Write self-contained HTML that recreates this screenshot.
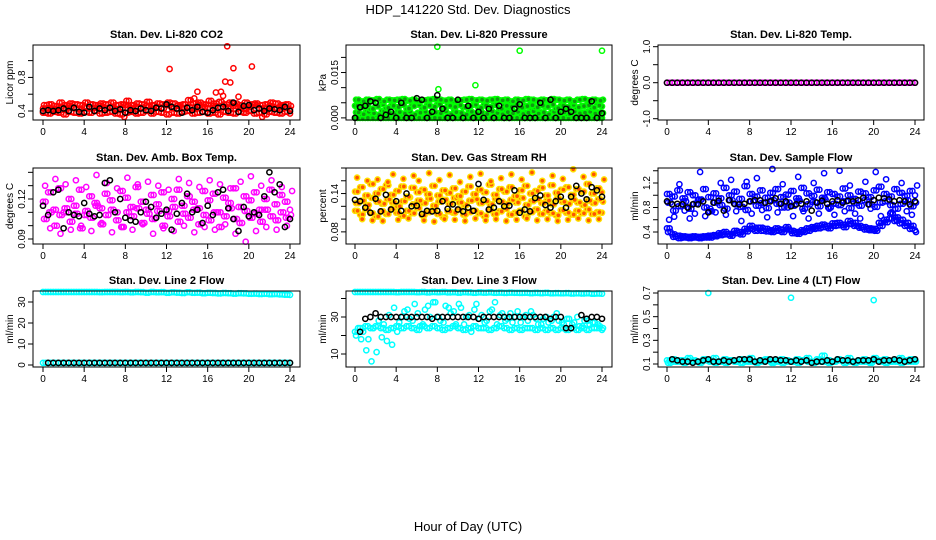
<!DOCTYPE html>
<html><head><meta charset="utf-8"><style>
html,body{margin:0;padding:0;background:#fff;}
svg{display:block;font-family:"Liberation Sans",sans-serif;}
.pt{font-weight:bold;font-size:11px;}
.tk{font-size:10px;}
</style></head><body>
<svg id="chart" width="936" height="540" viewBox="0 0 936 540">
<text x="468" y="14" text-anchor="middle" font-size="13">HDP_141220  Std. Dev. Diagnostics</text>
<text x="468" y="531" text-anchor="middle" font-size="13">Hour of Day (UTC)</text>
</svg>
<script>
const HOURS=[0,0.5,1,1.5,2,2.5,3,3.5,4,4.5,5,5.5,6,6.5,7,7.5,8,8.5,9,9.5,10,10.5,11,11.5,12,12.5,13,13.5,14,14.5,15,15.5,16,16.5,17,17.5,18,18.5,19,19.5,20,20.5,21,21.5,22,22.5,23,23.5,24];
const X_TICKS=[0,4,8,12,16,20,24];

// Panel 1: CO2
const CO2_A=[0.43,0.44,0.42,0.45,0.43,0.46,0.44,0.42,0.45,0.43,0.44,0.46,0.43,0.45,0.42,0.44,0.47,0.43,0.45,0.44,0.46,0.42,0.45,0.43,0.47,0.44,0.46,0.43,0.45,0.44,0.47,0.45,0.43,0.46,0.44,0.45,0.43,0.46,0.44,0.42,0.45,0.47,0.43,0.44,0.46,0.43,0.45,0.44,0.42];
const CO2_B=[0.38,0.37,0.39,0.38,0.36,0.39,0.38,0.37,0.39,0.38,0.40,0.37,0.38,0.39,0.37,0.36,0.38,0.39,0.37,0.38,0.40,0.37,0.39,0.38,0.36,0.38,0.37,0.39,0.40,0.37,0.38,0.39,0.37,0.38,0.36,0.39,0.38,0.37,0.39,0.38,0.40,0.37,0.38,0.36,0.39,0.38,0.37,0.39,0.37];
const CO2_C=[0.47,0.48,0.46,0.50,0.47,0.49,0.48,0.47,0.50,0.48,0.47,0.49,0.48,0.50,0.47,0.48,0.52,0.47,0.49,0.48,0.51,0.47,0.49,0.48,0.50,0.49,0.47,0.48,0.53,0.49,0.50,0.48,0.52,0.49,0.51,0.48,0.50,0.49,0.47,0.50,0.48,0.49,0.47,0.48,0.50,0.49,0.47,0.48,0.46];
const CO2_OUT_H=[12.3,14.7,15,16.8,17.3,17.5,17.7,17.9,18.2,18.5,19,20.3,7.9,21.3];
const CO2_OUT_V=[0.90,0.55,0.63,0.62,0.63,0.58,0.75,1.17,0.74,0.91,0.57,0.93,0.33,0.33];
const CO2_K=[0.40,0.41,0.40,0.41,0.43,0.40,0.44,0.39,0.38,0.45,0.40,0.43,0.41,0.44,0.40,0.42,0.38,0.41,0.40,0.43,0.41,0.40,0.44,0.43,0.48,0.45,0.43,0.38,0.44,0.41,0.45,0.39,0.38,0.41,0.44,0.45,0.40,0.50,0.39,0.46,0.47,0.41,0.43,0.40,0.43,0.42,0.41,0.45,0.40];

// Panel 2: Pressure
const PR_A=[0.0060,0.0055,0.0060,0.0058,0.0062,0.0055,0.0060,0.0058,0.0060,0.0062,0.0057,0.0060,0.0055,0.0058,0.0060,0.0062,0.0060,0.0057,0.0060,0.0055,0.0058,0.0060,0.0062,0.0058,0.0060,0.0057,0.0060,0.0062,0.0058,0.0060,0.0055,0.0060,0.0058,0.0062,0.0060,0.0057,0.0060,0.0058,0.0062,0.0060,0.0057,0.0060,0.0055,0.0060,0.0062,0.0058,0.0060,0.0057,0.0060];
const PR_B=[0.0040,0.0035,0.0042,0.0030,0.0038,0.0045,0.0033,0.0040,0.0036,0.0043,0.0031,0.0039,0.0044,0.0034,0.0041,0.0037,0.0045,0.0032,0.0040,0.0036,0.0042,0.0035,0.0039,0.0044,0.0033,0.0041,0.0037,0.0043,0.0030,0.0040,0.0036,0.0044,0.0034,0.0039,0.0042,0.0035,0.0041,0.0037,0.0044,0.0032,0.0040,0.0036,0.0043,0.0035,0.0039,0.0042,0.0034,0.0041,0.0038];
const PR_C=[0.0018,0.0012,0.0020,0.0015,0.0010,0.0022,0.0016,0.0012,0.0019,0.0014,0.0021,0.0011,0.0017,0.0020,0.0013,0.0018,0.0015,0.0022,0.0012,0.0019,0.0016,0.0011,0.0020,0.0014,0.0018,0.0013,0.0021,0.0016,0.0012,0.0019,0.0015,0.0020,0.0013,0.0017,0.0022,0.0014,0.0018,0.0012,0.0020,0.0016,0.0019,0.0013,0.0021,0.0015,0.0017,0.0020,0.0014,0.0018,0.0016];
const PR_D=[0,0,0,0,0,0,0,0,0,0,0,0,0,0,0,0,0,0,0,0,0,0,0,0,0,0,0,0,0,0,0,0,0,0,0,0,0,0,0,0,0,0,0,0,0,0,0,0,0];
const PR_OUT_H=[8,8.1,11.7,16,24];
const PR_OUT_V=[0.0235,0.0095,0.0108,0.0222,0.0222];
const PR_K=[0,0.0035,0.0040,0.0055,0.0050,0.0000,0.0010,0.0020,0.0000,0.0050,0.0000,0.0000,0.0065,0.0060,0.0000,0.0020,0.0075,0.0030,0.0000,0.0000,0.0060,0.0000,0.0040,0.0000,0.0020,0.0000,0.0030,0.0000,0.0040,0.0000,0.0000,0.0030,0.0045,0.0000,0.0000,0.0000,0.0050,0.0000,0.0060,0.0000,0.0020,0.0030,0.0020,0.0000,0.0000,0.0000,0.0055,0.0000,0.0015];

// Panel 3: Li-820 Temp
const TMP_M=[0,0,0,0,0,0,0,0,0,0,0,0,0,0,0,0,0,0,0,0,0,0,0,0,0,0,0,0,0,0,0,0,0,0,0,0,0,0,0,0,0,0,0,0,0,0,0,0,0];
const TMP_K=[0,0,0,0,0,0,0,0,0,0,0,0,0,0,0,0,0,0,0,0,0,0,0,0,0,0,0,0,0,0,0,0,0,0,0,0,0,0,0,0,0,0,0,0,0,0,0,0,0];

// Panel 4: Amb Box Temp
const AB_A=[0.118,0.125,0.112,0.128,0.110,0.120,0.115,0.127,0.108,0.122,0.117,0.113,0.124,0.119,0.110,0.126,0.121,0.114,0.129,0.118,0.112,0.123,0.116,0.125,0.111,0.120,0.127,0.115,0.122,0.118,0.113,0.126,0.119,0.124,0.110,0.121,0.117,0.128,0.114,0.122,0.119,0.125,0.112,0.120,0.127,0.116,0.123,0.118,0.112];
const AB_B=[0.105,0.110,0.100,0.108,0.113,0.103,0.109,0.098,0.111,0.106,0.115,0.101,0.108,0.112,0.104,0.099,0.110,0.107,0.113,0.102,0.109,0.105,0.111,0.100,0.107,0.114,0.103,0.109,0.106,0.112,0.101,0.108,0.104,0.110,0.099,0.107,0.113,0.105,0.102,0.111,0.106,0.109,0.103,0.112,0.107,0.104,0.110,0.106,0.108];
const AB_C=[0.130,0.098,0.135,0.094,0.131,0.097,0.134,0.100,0.129,0.096,0.138,0.102,0.132,0.095,0.128,0.099,0.136,0.097,0.131,0.101,0.133,0.094,0.130,0.098,0.127,0.096,0.135,0.100,0.132,0.095,0.129,0.099,0.134,0.097,0.131,0.101,0.128,0.094,0.133,0.088,0.137,0.096,0.130,0.099,0.134,0.097,0.129,0.100,0.126];
const AB_K=[0.115,0.108,0.125,0.127,0.098,0.110,0.108,0.107,0.117,0.109,0.107,0.108,0.132,0.134,0.110,0.120,0.106,0.104,0.103,0.110,0.118,0.114,0.106,0.109,0.112,0.097,0.109,0.117,0.124,0.110,0.112,0.102,0.115,0.108,0.125,0.127,0.113,0.105,0.096,0.114,0.107,0.110,0.108,0.122,0.140,0.125,0.131,0.099,0.105];

// Panel 5: Gas Stream RH
const RH_A=[0.125,0.129,0.122,0.133,0.127,0.124,0.131,0.126,0.120,0.128,0.134,0.123,0.129,0.125,0.132,0.121,0.127,0.130,0.124,0.133,0.126,0.122,0.129,0.131,0.125,0.128,0.123,0.132,0.127,0.124,0.130,0.126,0.133,0.122,0.128,0.131,0.125,0.129,0.123,0.132,0.127,0.124,0.130,0.126,0.122,0.129,0.125,0.131,0.127];
const RH_B=[0.113,0.107,0.115,0.109,0.104,0.112,0.108,0.116,0.110,0.105,0.113,0.109,0.117,0.106,0.111,0.114,0.108,0.103,0.112,0.110,0.115,0.107,0.111,0.113,0.109,0.105,0.114,0.108,0.112,0.116,0.107,0.110,0.113,0.104,0.111,0.115,0.108,0.112,0.109,0.106,0.114,0.110,0.107,0.113,0.109,0.115,0.108,0.111,0.110];
const RH_C=[0.143,0.150,0.137,0.155,0.140,0.147,0.153,0.138,0.144,0.151,0.135,0.149,0.142,0.146,0.139,0.152,0.137,0.145,0.141,0.148,0.136,0.143,0.151,0.139,0.146,0.142,0.154,0.138,0.147,0.143,0.150,0.136,0.145,0.152,0.140,0.144,0.149,0.137,0.153,0.141,0.146,0.150,0.138,0.147,0.143,0.155,0.140,0.148,0.142];
const RH_D=[0.165,0.100,0.160,0.098,0.162,0.097,0.158,0.170,0.099,0.163,0.101,0.168,0.160,0.098,0.172,0.096,0.161,0.100,0.169,0.099,0.158,0.097,0.166,0.101,0.171,0.098,0.159,0.100,0.164,0.097,0.170,0.099,0.162,0.101,0.173,0.098,0.160,0.100,0.168,0.097,0.163,0.099,0.178,0.101,0.166,0.098,0.170,0.100,0.162];
const RH_K=[0.130,0.128,0.118,0.110,0.132,0.112,0.138,0.115,0.128,0.113,0.140,0.120,0.121,0.108,0.113,0.112,0.113,0.128,0.116,0.123,0.115,0.112,0.118,0.113,0.155,0.130,0.115,0.118,0.128,0.120,0.121,0.145,0.110,0.115,0.112,0.133,0.137,0.122,0.118,0.128,0.135,0.118,0.135,0.152,0.140,0.131,0.150,0.145,0.135];

// Panel 6: Sample Flow
const SF_A=[1.02,0.98,1.08,0.95,1.05,1.00,0.92,1.10,0.97,1.03,0.95,1.12,1.00,1.06,0.94,1.15,1.02,0.98,1.08,0.96,1.04,1.10,0.97,1.01,1.07,0.95,1.12,1.03,0.99,1.09,0.96,1.05,1.02,0.98,1.11,1.00,0.94,1.06,1.03,0.97,1.08,1.14,1.02,0.98,1.10,1.04,0.99,1.07,1.00];
const SF_B=[0.88,0.75,0.82,0.90,0.78,0.86,0.93,0.80,0.74,0.88,0.84,0.78,0.92,0.85,0.81,0.76,0.90,0.83,0.87,0.79,0.92,0.86,0.80,0.88,0.83,0.91,0.78,0.85,0.89,0.82,0.93,0.80,0.86,0.84,0.90,0.79,0.87,0.83,0.92,0.85,0.81,0.88,0.90,0.84,0.78,0.86,0.92,0.82,0.88];
const SF_C=[0.46,0.36,0.34,0.33,0.32,0.33,0.32,0.33,0.34,0.35,0.38,0.40,0.37,0.42,0.40,0.45,0.50,0.42,0.47,0.45,0.43,0.46,0.44,0.48,0.42,0.40,0.43,0.46,0.48,0.50,0.52,0.50,0.54,0.55,0.52,0.58,0.55,0.50,0.48,0.46,0.45,0.55,0.60,0.62,0.58,0.54,0.50,0.45,0.43];
const SF_D=[0.40,0.32,0.30,0.31,0.30,0.31,0.30,0.31,0.31,0.33,0.35,0.36,0.34,0.38,0.36,0.41,0.45,0.47,0.42,0.41,0.40,0.42,0.40,0.44,0.38,0.37,0.40,0.42,0.45,0.46,0.48,0.46,0.50,0.51,0.48,0.53,0.50,0.47,0.44,0.43,0.42,0.50,0.56,0.70,0.64,0.60,0.55,0.50,0.40];
const SF_E=[0.60,0.65,1.18,0.75,0.62,0.70,1.38,0.66,0.78,0.72,1.20,0.68,1.25,0.74,0.58,1.22,0.70,1.28,0.76,0.64,1.45,0.72,1.18,0.80,0.66,1.30,0.74,0.62,1.20,0.70,1.36,0.78,0.68,1.40,0.74,1.16,0.70,0.62,1.22,0.78,1.38,0.66,1.26,0.72,0.60,1.20,0.74,0.68,1.16];
const SF_K=[0.90,0.85,0.86,0.85,0.80,0.85,0.85,0.90,0.72,0.88,0.91,0.75,0.92,0.86,0.85,0.86,0.90,0.92,0.92,0.88,0.90,0.95,0.86,0.90,0.82,0.85,0.86,0.90,0.75,0.88,0.91,0.86,0.90,0.92,0.88,0.91,0.90,0.92,0.96,0.85,0.92,0.96,0.95,0.93,0.90,0.92,0.90,0.85,0.90];

// Panel 7: Line 2 Flow
const L2_A=[35.0,35.2,34.8,35.1,34.9,35.2,35.0,34.8,35.1,34.9,35.0,34.7,35.0,34.8,34.9,34.7,34.9,34.6,34.8,34.7,34.5,34.8,34.6,34.7,34.4,34.6,34.5,34.3,34.6,34.4,34.5,34.2,34.4,34.3,34.1,34.3,34.2,34.0,34.2,34.1,33.9,34.0,33.8,33.9,33.7,33.8,33.6,33.5,33.4];
const L2_B=[1.0,1.0,1.0,1.0,1.0,1.0,1.0,1.0,1.0,1.0,1.0,1.0,1.0,1.0,1.0,1.0,1.0,1.0,1.0,1.0,1.0,1.0,1.0,1.0,1.0,1.0,1.0,1.0,1.0,1.0,1.0,1.0,1.0,1.0,1.0,1.0,1.0,1.0,1.0,1.0,1.0,1.0,1.0,1.0,1.0,1.0,1.0,1.0,1.0];
const L2_K=[null,1.0,1.0,1.0,1.0,1.0,1.0,1.0,1.0,1.0,1.0,1.0,1.0,1.0,1.0,1.0,1.0,1.0,1.0,1.0,1.0,1.0,1.0,1.0,1.0,1.0,1.0,1.0,1.0,1.0,1.0,1.0,1.0,1.0,1.0,1.0,1.0,1.0,1.0,1.0,1.0,1.0,1.0,1.0,1.0,1.0,1.0,1.0,1.0];

// Panel 8: Line 3 Flow
const L3_A=[43.8,43.6,43.9,43.7,43.8,43.5,43.7,43.6,43.4,43.7,43.5,43.6,43.4,43.5,43.3,43.6,43.4,43.5,43.3,43.4,43.2,43.4,43.3,43.1,43.3,43.2,43.3,43.1,43.2,43.0,43.2,43.1,43.0,43.1,42.9,43.0,42.9,43.0,42.8,42.9,42.8,42.9,42.7,42.8,42.7,42.8,42.6,42.7,42.6];
const L3_B=[22,24,25,24,25,24,23,24,25,24,25,24,23,25,24,25,24,23,24,25,24,23,24,25,24,24,23,24,25,24,23,24,23,24,24,23,24,23,24,23,24,23,24,23,24,23,24,24,23];
const L3_C=[20,18,12,6,11,19,17,15,22,30,34,28,32,26,36,38,30,27,35,33,37,26,31,34,29,27,33,38,31,28,32,30,27,31,33,29,26,30,28,32,27,29,26,30,25,28,27,26,24];
const L3_D=[24,22,18,24,28,26,31,35,27,33,29,37,25,34,30,38,28,36,32,26,35,30,22,37,31,28,34,26,32,29,27,33,30,28,31,26,29,27,30,28,26,29,27,25,28,26,27,25,26];
const L3_K=[null,22,29,30,32,30,30,30,30,30,30,30,30,30,30,29,30,30,30,30,30,30,30,30,29,30,30,30,30,30,30,30,30,30,30,30,30,30,29,30,30,24,24,null,31,29,30,30,29];

// Panel 9: Line 4 Flow
const L4_A=[0.13,0.14,0.12,0.13,0.15,0.13,0.12,0.14,0.13,0.15,0.12,0.14,0.13,0.12,0.14,0.13,0.15,0.12,0.13,0.14,0.12,0.13,0.14,0.13,0.12,0.14,0.13,0.15,0.12,0.14,0.17,0.13,0.12,0.14,0.13,0.15,0.12,0.13,0.14,0.12,0.15,0.13,0.14,0.12,0.13,0.15,0.13,0.14,0.13];
const L4_B=[0.11,0.12,0.13,0.11,0.12,0.12,0.11,0.13,0.12,0.11,0.12,0.11,0.13,0.12,0.11,0.12,0.12,0.11,0.12,0.13,0.11,0.12,0.11,0.12,0.12,0.11,0.13,0.12,0.11,0.12,0.12,0.11,0.12,0.13,0.11,0.12,0.11,0.12,0.12,0.11,0.13,0.12,0.11,0.12,0.12,0.11,0.12,0.12,0.12];
const L4_OUT_H=[4,12,20];
const L4_OUT_V=[0.70,0.66,0.64];
const L4_K=[null,0.14,0.13,0.12,0.12,0.11,0.12,0.13,0.14,0.12,0.12,0.13,0.12,0.13,0.14,0.14,0.14,0.12,0.13,0.12,0.14,0.14,0.13,0.13,0.12,0.13,0.12,0.13,0.11,0.12,0.12,0.13,0.12,0.14,0.13,0.13,0.12,0.13,0.13,0.13,0.14,0.12,0.13,0.13,0.14,0.13,0.12,0.13,0.14];

const NS="http://www.w3.org/2000/svg";
const svg=document.getElementById('chart');
function mk(tag,attrs,parent){const e=document.createElementNS(NS,tag);for(const k in attrs)e.setAttribute(k,attrs[k]);(parent||svg).appendChild(e);return e;}

const COLS=[{l:33,r:300,x0:43,x24:290},{l:346,r:612,x0:355,x24:602},{l:658,r:924,x0:667,x24:915}];
const ROWS=[{t:45,b:120},{t:168,b:244},{t:291,b:367}];

function panel(p){
  const c=COLS[p.col], r=ROWS[p.row];
  const g=mk('g',{});
  
  
  const sx=h=>c.x0+(c.x24-c.x0)*h/24;
  const sy=v=>r.b-(v-p.ymin)/(p.ymax-p.ymin)*(r.b-r.t);
  const t=mk('text',{x:(c.l+c.r)/2,y:r.t-7,'text-anchor':'middle',class:'pt'},g);
  t.textContent=p.title;
  
  
  const yt=mk('text',{transform:`translate(${c.l-20},${(r.t+r.b)/2}) rotate(-90)`,'text-anchor':'middle',class:'tk'},g);
  yt.textContent=p.ylab;
  
  
  const pg=mk('g',{},g);
  
  
  p.series.forEach(s=>{
    const hs=s.h||HOURS;
    (s.shifts||[0]).forEach(sh=>{
      s.v.forEach((v,i)=>{
        if(v===null||v===undefined)return;
        const h=hs[i]+sh; if(h>24.2)return;
        const cy=Math.max(r.t+1,Math.min(r.b-1,sy(v)));
        const el=mk('circle',{cx:sx(h).toFixed(1),cy:cy.toFixed(1),r:2.6,fill:s.fill||'none',stroke:s.color,'stroke-width':1.5},pg);
        
        
      });
    });
  });
  const bx=mk('rect',{x:c.l,y:r.t,width:c.r-c.l,height:r.b-r.t,fill:'none',stroke:'#000','stroke-width':1},g);
  
  
  const xa=mk('g',{},g);
  
  
  X_TICKS.forEach(h=>{
    mk('line',{x1:sx(h),x2:sx(h),y1:r.b,y2:r.b+5,stroke:'#000'},xa);
    const tl=mk('text',{x:sx(h),y:r.b+15,'text-anchor':'middle',class:'tk'},xa);
    tl.textContent=h;
    
    
  });
  const ya=mk('g',{},g);
  
  
  p.yticks.forEach(v=>{
    mk('line',{x1:c.l,x2:c.l-5,y1:sy(v),y2:sy(v),stroke:'#000'},ya);
  });
  p.ylabels.forEach((v,i)=>{
    const tl=mk('text',{transform:`translate(${c.l-8},${sy(v)}) rotate(-90)`,'text-anchor':'middle',class:'tk'},ya);
    tl.textContent=p.ylabelText[i];
    
    
  });
}

const GF='#119911', RF='#ff5500';
panel({name:'panel-co2',col:0,row:0,title:'Stan. Dev. Li-820 CO2',ylab:'Licor ppm',ymin:0.293,ymax:1.186,
  yticks:[0.4,0.6,0.8,1.0],ylabels:[0.4,0.8],ylabelText:['0.4','0.8'],
  series:[{name:'co2-point',v:CO2_B,color:'#ff0000',shifts:[0,0.25]},{name:'co2-point',v:CO2_C,color:'#ff0000',shifts:[0.1,0.35]},{name:'co2-point',v:CO2_A,color:'#ff0000',shifts:[0,0.25]},
  {name:'co2-outlier',h:CO2_OUT_H,v:CO2_OUT_V,color:'#ff0000'},{name:'co2-mean-point',v:CO2_K,color:'#000'}]});
panel({name:'panel-pressure',col:1,row:0,title:'Stan. Dev. Li-820 Pressure',ylab:'kPa',ymin:-0.0007,ymax:0.0241,
  yticks:[0,0.005,0.010,0.015,0.020],ylabels:[0,0.015],ylabelText:['0.000','0.015'],
  series:[{name:'pressure-point',v:PR_D,color:'#00ff00',fill:GF,shifts:[0,0.25]},{name:'pressure-point',v:PR_C,color:'#00ff00',fill:GF,shifts:[0.1,0.35]},{name:'pressure-point',v:PR_B,color:'#00ff00',fill:GF,shifts:[0,0.25]},{name:'pressure-point',v:PR_A,color:'#00ff00',fill:GF,shifts:[0.1,0.35]},
  {name:'pressure-outlier',h:PR_OUT_H,v:PR_OUT_V,color:'#00ff00'},{name:'pressure-mean-point',v:PR_K,color:'#000'}]});
panel({name:'panel-temp',col:2,row:0,title:'Stan. Dev. Li-820 Temp.',ylab:'degrees C',ymin:-1.036,ymax:1.047,
  yticks:[-1,-0.5,0,0.5,1],ylabels:[-1,0,1],ylabelText:['-1.0','0.0','1.0'],
  series:[{name:'temp-point',v:TMP_M,color:'#ff00ff',shifts:[0,0.25]},{name:'temp-mean-point',v:TMP_K,color:'#000'}]});
panel({name:'panel-amb-box-temp',col:0,row:1,title:'Stan. Dev. Amb. Box Temp.',ylab:'degrees C',ymin:0.08625,ymax:0.14325,
  yticks:[0.09,0.10,0.11,0.12,0.13,0.14],ylabels:[0.09,0.12],ylabelText:['0.09','0.12'],
  series:[{name:'amb-point',v:AB_A,color:'#ff00ff',shifts:[0,0.25]},{name:'amb-point',v:AB_B,color:'#ff00ff',shifts:[0.1,0.35]},{name:'amb-point',v:AB_C,color:'#ff00ff',shifts:[0.2]},{name:'amb-mean-point',v:AB_K,color:'#000'}]});
panel({name:'panel-rh',col:1,row:1,title:'Stan. Dev. Gas Stream RH',ylab:'percent',ymin:0.061,ymax:0.18,
  yticks:[0.08,0.10,0.12,0.14,0.16,0.18],ylabels:[0.08,0.14],ylabelText:['0.08','0.14'],
  series:[{name:'rh-point',v:RH_B,color:'#ffe000',fill:RF,shifts:[0,0.25]},{name:'rh-point',v:RH_A,color:'#ffe000',fill:RF,shifts:[0.1,0.35]},{name:'rh-point',v:RH_C,color:'#ffe000',fill:RF,shifts:[0,0.25]},{name:'rh-point',v:RH_D,color:'#ffe000',fill:RF,shifts:[0.2]},{name:'rh-mean-point',v:RH_K,color:'#000'}]});
panel({name:'panel-sample-flow',col:2,row:1,title:'Stan. Dev. Sample Flow',ylab:'ml/min',ymin:0.204,ymax:1.445,
  yticks:[0.4,0.6,0.8,1.0,1.2,1.4],ylabels:[0.4,0.8,1.2],ylabelText:['0.4','0.8','1.2'],
  series:[{name:'flow-point',v:SF_A,color:'#0000ff',shifts:[0,0.25]},{name:'flow-point',v:SF_B,color:'#0000ff',shifts:[0.1,0.35]},{name:'flow-point',v:SF_C,color:'#0000ff',shifts:[0,0.25]},{name:'flow-point',v:SF_D,color:'#0000ff',shifts:[0.1,0.35]},{name:'flow-point',v:SF_E,color:'#0000ff',shifts:[0.2]},{name:'flow-mean-point',v:SF_K,color:'#000'}]});
panel({name:'panel-line2-flow',col:0,row:2,title:'Stan. Dev. Line 2 Flow',ylab:'ml/min',ymin:-0.95,ymax:35.24,
  yticks:[0,10,20,30],ylabels:[0,10,20,30],ylabelText:['0','10','20','30'],
  series:[{name:'line2-point',v:L2_A,color:'#00ffff',shifts:[0,0.25]},{name:'line2-point',v:L2_B,color:'#00ffff',shifts:[0,0.25]},{name:'line2-mean-point',v:L2_K,color:'#000'}]});
panel({name:'panel-line3-flow',col:1,row:2,title:'Stan. Dev. Line 3 Flow',ylab:'ml/min',ymin:2.97,ymax:44.05,
  yticks:[10,20,30,40],ylabels:[10,30],ylabelText:['10','30'],
  series:[{name:'line3-point',v:L3_A,color:'#00ffff',shifts:[0,0.25]},{name:'line3-point',v:L3_B,color:'#00ffff',shifts:[0,0.25]},{name:'line3-point',v:L3_C,color:'#00ffff',shifts:[0.1]},{name:'line3-point',v:L3_D,color:'#00ffff',shifts:[0.3]},{name:'line3-mean-point',v:L3_K,color:'#000'}]});
panel({name:'panel-line4-flow',col:2,row:2,title:'Stan. Dev. Line 4 (LT) Flow',ylab:'ml/min',ymin:0.0746,ymax:0.717,
  yticks:[0.1,0.2,0.3,0.4,0.5,0.6,0.7],ylabels:[0.1,0.3,0.5,0.7],ylabelText:['0.1','0.3','0.5','0.7'],
  series:[{name:'line4-point',v:L4_A,color:'#00ffff',shifts:[0,0.25]},{name:'line4-point',v:L4_B,color:'#00ffff',shifts:[0.1,0.35]},{name:'line4-outlier',h:L4_OUT_H,v:L4_OUT_V,color:'#00ffff'},{name:'line4-mean-point',v:L4_K,color:'#000'}]});
</script>
</body></html>
